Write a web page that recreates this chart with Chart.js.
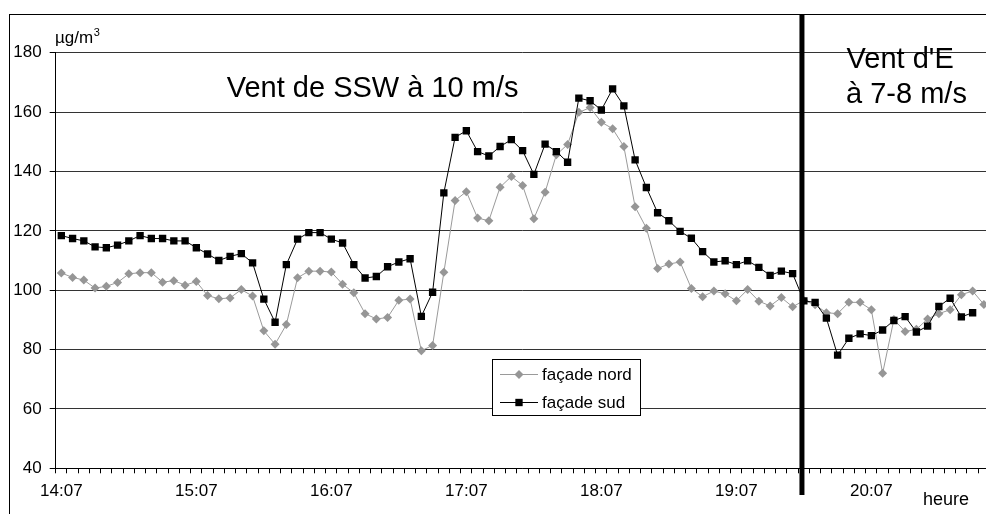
<!DOCTYPE html>
<html>
<head>
<meta charset="utf-8">
<script src="https://cdn.jsdelivr.net/npm/chart.js@4.4.0/dist/chart.umd.min.js"></script>
<style>
  html, body { margin: 0; padding: 0; background: #fff; overflow: hidden; }
  #wrap { width: 1000px; height: 514px; }
</style>
</head>
<body>
<div id="wrap"><canvas id="chart" width="1000" height="514"></canvas></div>
<script>
const FONT = "'Liberation Sans', Arial, sans-serif";

// one reading every 5 minutes from 14:07
const startMinutes = 14 * 60 + 7;
const stepMinutes = 5;
const pointCount = 83;

const tickLabels = ["14:07", "15:07", "16:07", "17:07", "18:07", "19:07", "20:07"];

const nord = [
  105.8, 104.3, 103.4, 100.7, 101.3, 102.6, 105.5, 105.9, 105.9, 102.7,
  103.2, 101.7, 102.9, 98.2, 97.1, 97.4, 100.2, 98.0, 86.3, 81.8,
  88.4, 104.2, 106.4, 106.4, 106.1, 102.0, 99.1, 92.1, 90.3, 90.8,
  96.6, 97.0, 79.6, 81.4, 106.0, 130.2, 133.2, 124.3, 123.4, 134.7,
  138.3, 135.3, 124.1, 133.0, 145.6, 149.1, 159.9, 161.5, 156.6, 154.4,
  148.4, 128.1, 120.9, 107.3, 108.8, 109.5, 100.6, 97.8, 99.7, 98.8,
  96.4, 100.2, 96.3, 94.7, 97.5, 94.4, 96.5, 95.1, 92.4, 92.1,
  95.9, 95.9, 93.4, 72.0, 90.1, 86.1, 86.8, 90.3, 92.1, 93.4,
  98.5, 99.7, 95.2
];

const sud = [
  118.4, 117.4, 116.6, 114.6, 114.3, 115.2, 116.6, 118.4, 117.4, 117.4,
  116.6, 116.6, 114.3, 112.2, 110.0, 111.4, 112.3, 109.2, 97.0, 89.2,
  108.6, 117.2, 119.4, 119.4, 117.2, 115.9, 108.6, 104.1, 104.6, 107.9,
  109.5, 110.6, 91.2, 99.3, 132.8, 151.5, 153.7, 146.7, 145.2, 148.4,
  150.7, 147.0, 139.0, 149.2, 146.7, 143.1, 164.7, 163.8, 160.7, 167.8,
  162.1, 143.9, 134.6, 126.1, 123.4, 119.8, 117.5, 113.0, 109.5, 109.9,
  108.6, 109.9, 107.7, 105.0, 106.4, 105.6, 96.4, 95.9, 90.6, 78.1,
  83.8, 85.3, 84.7, 86.6, 89.8, 91.1, 85.9, 87.9, 94.5, 97.3,
  91.0, 92.4
];

// wind change, as a category position (between 19:32 and 19:37)
const windShift = 65.83;

const notes = [
  { text: "Vent de SSW à 10 m/s", at: 14.7, value: 165.2 },
  { text: "Vent d'E", at: 69.8, value: 174.7 },
  { text: "à 7-8 m/s", at: 69.75, value: 163.0 },
];

const labels = [];
for (let i = 0; i < pointCount; i++) {
  const m = startMinutes + i * stepMinutes;
  labels.push(Math.floor(m / 60) + ":" + String(m % 60).padStart(2, "0"));
}

const extras = {
  id: "extras",
  afterDatasetsDraw(chart) {
    const ctx = chart.ctx;
    const x = chart.scales.x;
    const y = chart.scales.y;
    ctx.save();
    // outer frame
    ctx.strokeStyle = "#000";
    ctx.lineWidth = 1;
    ctx.strokeRect(9.5, 14.5, 1200, 600);

    // wind change line
    const px = x.getPixelForValue(windShift);
    ctx.lineWidth = 5;
    ctx.beginPath();
    ctx.moveTo(px, 14);
    ctx.lineTo(px, 495);
    ctx.stroke();

    ctx.fillStyle = "#000";
    ctx.textAlign = "left";
    ctx.textBaseline = "alphabetic";
    ctx.font = "29px " + FONT;
    for (const n of notes) {
      ctx.fillText(n.text, x.getPixelForValue(n.at), y.getPixelForValue(n.value));
    }

    // unit
    ctx.font = "17px " + FONT;
    ctx.fillText("µg/m", 55, 43);
    const w = ctx.measureText("µg/m").width;
    ctx.font = "11px " + FONT;
    ctx.fillText("3", 55 + w + 0.5, 36);

    ctx.font = "18px " + FONT;
    ctx.fillText("heure", 923, 505);
    ctx.restore();
  },
  afterDraw(chart) {
    const ctx = chart.ctx;
    ctx.save();
    ctx.fillStyle = "#fff";
    ctx.strokeStyle = "#000";
    ctx.lineWidth = 1;
    ctx.fillRect(492.5, 359.5, 148, 56);
    ctx.strokeRect(492.5, 359.5, 148, 56);
    ctx.font = "17px " + FONT;
    ctx.textBaseline = "middle";
    chart.data.datasets.forEach((ds, i) => {
      const cy = 374 + i * 28;
      ctx.strokeStyle = ds.borderColor;
      ctx.beginPath();
      ctx.moveTo(500, cy + 0.5);
      ctx.lineTo(538, cy + 0.5);
      ctx.stroke();
      ctx.fillStyle = ds.pointBackgroundColor;
      const r = ds.pointRadius;
      ctx.beginPath();
      if (ds.pointStyle === "rect") {
        const s = Math.SQRT1_2 * r;
        ctx.rect(519 - s, cy + 0.5 - s, 2 * s, 2 * s);
      } else {
        ctx.moveTo(519 - r, cy + 0.5);
        ctx.lineTo(519, cy + 0.5 - r);
        ctx.lineTo(519 + r, cy + 0.5);
        ctx.lineTo(519, cy + 0.5 + r);
        ctx.closePath();
      }
      ctx.fill();
      ctx.fillStyle = "#000";
      ctx.fillText(ds.label, 542, cy + 1);
    });
    ctx.restore();
  },
};

new Chart(document.getElementById("chart"), {
  type: "line",
  data: {
    labels: labels,
    datasets: [
      {
        label: "façade nord",
        data: nord,
        borderColor: "#9a9a9a",
        borderWidth: 1,
        pointStyle: "rectRot",
        pointRadius: 4.5,
        pointBackgroundColor: "#969696",
        pointBorderWidth: 0,
        tension: 0,
        order: 1,
      },
      {
        label: "façade sud",
        data: sud,
        borderColor: "#000",
        borderWidth: 1,
        pointStyle: "rect",
        pointRadius: 5.2,
        pointBackgroundColor: "#000",
        pointBorderWidth: 0,
        tension: 0,
        order: 0,
      },
    ],
  },
  options: {
    responsive: false,
    animation: false,
    layout: { padding: { top: 52.7, right: 10.5, left: 0, bottom: 0 } },
    plugins: {
      legend: { display: false },
      tooltip: { enabled: false },
    },
    scales: {
      x: {
        type: "category",
        offset: true,
        grid: { offset: true, drawOnChartArea: false, color: "#000", tickLength: 5 },
        border: { color: "#000", width: 1 },
        ticks: {
          autoSkip: false,
          maxRotation: 0,
          minRotation: 0,
          padding: 8,
          color: "#000",
          font: { size: 17, family: FONT },
          callback: function (v) {
            const l = this.getLabelForValue(v);
            return tickLabels.includes(l) ? l : "";
          },
        },
        afterFit: (s) => { s.height = 45.7; },
      },
      y: {
        min: 40,
        max: 180,
        ticks: { stepSize: 20, padding: 8, color: "#000", font: { size: 17, family: FONT } },
        grid: { color: "#333", tickColor: "#000", tickLength: 6 },
        border: { color: "#000", width: 1 },
        afterFit: (s) => { s.width = 55.7; },
      },
    },
  },
  plugins: [extras],
});
</script>
</body>
</html>
